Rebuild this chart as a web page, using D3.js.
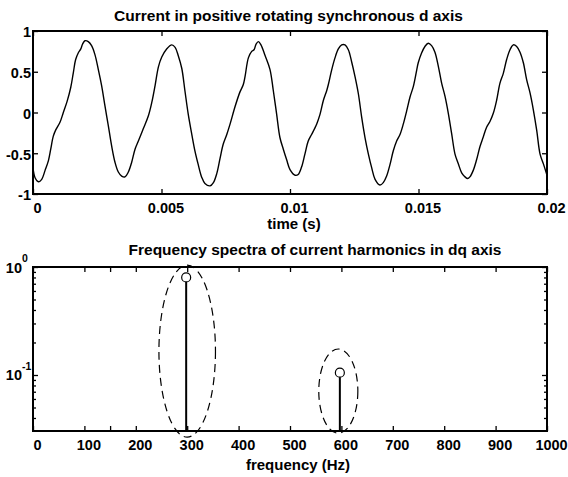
<!DOCTYPE html>
<html>
<head>
<meta charset="utf-8">
<script src="https://cdn.jsdelivr.net/npm/d3@7"></script>
<style>
  body { margin: 0; background: #fff; }
  svg { display: block; }
  text { font-family: "Liberation Sans", Arial, sans-serif; font-weight: bold; fill: #000; }
</style>
</head>
<body>
<div id="chart"></div>
<script>
// =====================
// DATA
// =====================
const timeSec = [
  0.00000, 0.00008, 0.00021, 0.00034, 0.00047, 0.00060, 0.00069, 0.00079, 0.00089, 0.00105,
  0.00118, 0.00133, 0.00147, 0.00157, 0.00166, 0.00176, 0.00186, 0.00193, 0.00202, 0.00215,
  0.00228, 0.00241, 0.00254, 0.00267, 0.00280, 0.00293, 0.00306, 0.00319, 0.00332, 0.00345,
  0.00358, 0.00371, 0.00384, 0.00397, 0.00410, 0.00429, 0.00449, 0.00462, 0.00475, 0.00488,
  0.00501, 0.00520, 0.00540, 0.00553, 0.00565, 0.00579, 0.00591, 0.00604, 0.00618, 0.00630,
  0.00643, 0.00656, 0.00669, 0.00689, 0.00702, 0.00715, 0.00728, 0.00740, 0.00754, 0.00767,
  0.00786, 0.00805, 0.00818, 0.00825, 0.00838, 0.00851, 0.00860, 0.00868, 0.00877, 0.00887,
  0.00903, 0.00922, 0.00935, 0.00948, 0.00961, 0.00974, 0.00987, 0.01000, 0.01020, 0.01032,
  0.01045, 0.01058, 0.01071, 0.01084, 0.01104, 0.01117, 0.01130, 0.01143, 0.01149, 0.01162,
  0.01175, 0.01188, 0.01201, 0.01214, 0.01227, 0.01240, 0.01253, 0.01266, 0.01279, 0.01292,
  0.01305, 0.01318, 0.01331, 0.01350, 0.01363, 0.01376, 0.01389, 0.01402, 0.01415, 0.01428,
  0.01441, 0.01454, 0.01467, 0.01480, 0.01493, 0.01499, 0.01512, 0.01525, 0.01538, 0.01551,
  0.01564, 0.01577, 0.01590, 0.01603, 0.01616, 0.01629, 0.01642, 0.01655, 0.01668, 0.01681,
  0.01691, 0.01700, 0.01713, 0.01726, 0.01739, 0.01752, 0.01765, 0.01778, 0.01791, 0.01804,
  0.01817, 0.01830, 0.01843, 0.01856, 0.01869, 0.01882, 0.01895, 0.01908, 0.01921, 0.01934,
  0.01947, 0.01960, 0.01973, 0.01986, 0.02000
];

const currentD = [
  -0.68, -0.80, -0.85, -0.82, -0.71, -0.59, -0.45, -0.29, -0.21, -0.12,
   0.00,  0.14,  0.31,  0.49,  0.65,  0.73,  0.78,  0.84,  0.88,  0.87,
   0.82,  0.71,  0.53,  0.33,  0.08, -0.16, -0.41, -0.61, -0.73, -0.78,
  -0.79, -0.73, -0.61, -0.45, -0.35, -0.20, -0.04,  0.12,  0.33,  0.56,
   0.68,  0.78,  0.83,  0.80,  0.70,  0.54,  0.27, -0.02, -0.27, -0.47,
  -0.64, -0.79, -0.87, -0.90, -0.86, -0.75, -0.56, -0.39, -0.27, -0.14,
   0.07,  0.25,  0.34,  0.44,  0.67,  0.75,  0.77,  0.84,  0.87,  0.83,
   0.70,  0.53,  0.27, -0.02, -0.31, -0.45, -0.58, -0.70, -0.77, -0.76,
  -0.67, -0.51, -0.35, -0.27, -0.14, -0.02,  0.15,  0.27,  0.34,  0.52,
   0.67,  0.78,  0.83,  0.83,  0.77,  0.62,  0.44,  0.23, -0.06, -0.31,
  -0.51, -0.68, -0.82, -0.89, -0.86, -0.78, -0.64, -0.47, -0.35, -0.27,
  -0.14,  0.02,  0.19,  0.32,  0.52,  0.61,  0.73,  0.81,  0.85,  0.82,
   0.74,  0.57,  0.36,  0.20, -0.01, -0.26, -0.51, -0.63, -0.74, -0.79,
  -0.81, -0.79, -0.71, -0.58, -0.42, -0.30, -0.18, -0.11, -0.01,  0.15,
   0.36,  0.48,  0.65,  0.77,  0.83,  0.81,  0.74,  0.61,  0.40,  0.24,
   0.03, -0.22, -0.51, -0.63, -0.77
];

const timeTicks = [0, 0.005, 0.01, 0.015, 0.02];
const currentTicks = [-1, -0.5, 0, 0.5, 1];

const harmonicFreq = [298, 597];
const harmonicAmp = [0.80, 0.105];

const freqTicks = [0, 100, 200, 300, 400, 500, 600, 700, 800, 900, 1000];
const freqExtraTicks = [150];
const ampMajorTicks = [0.1, 1];
const ampMinorTicks = [0.04, 0.05, 0.06, 0.07, 0.08, 0.09, 0.2, 0.3, 0.4, 0.5, 0.6, 0.7, 0.8, 0.9];

// dashed ellipses around the harmonics: [center Hz, half width Hz, top value, bottom value]
const ellipseFreq = [300, 594];
const ellipseHalfWidth = [55, 38];
const ellipseTop = [1.04, 0.174];
const ellipseBottom = [0.0266, 0.0289];

// =====================
// SVG SETUP
// =====================
const W = 568, H = 477;
const svg = d3.select("#chart").append("svg")
  .attr("width", W)
  .attr("height", H);

const left = 33, right = 547;
const top1 = { top: 31, bottom: 194 };
const top2 = { top: 267, bottom: 431 };

// =====================
// TOP PLOT: TIME SIGNAL
// =====================
const x1 = d3.scaleLinear().domain([0, 0.02]).range([left, right]);
const y1 = d3.scaleLinear().domain([-1, 1]).range([top1.bottom, top1.top]);

const g1 = svg.append("g");

function styleAxis(sel) {
  sel.select(".domain").remove();
  sel.selectAll("line").attr("stroke", "#000").attr("stroke-width", 1.3);
  sel.selectAll("text")
    .style("font-family", "'Liberation Sans', Arial, sans-serif")
    .style("font-weight", "bold")
    .style("font-size", "14.5px")
    .attr("fill", "#000");
}

g1.append("g")
  .attr("transform", `translate(0,${top1.bottom})`)
  .call(d3.axisBottom(x1).tickValues(timeTicks).tickSize(-5).tickPadding(9)
    .tickFormat(d => d === 0 ? "0" : String(+d.toFixed(3))))
  .call(styleAxis)
  .selectAll("text").attr("dx", 4);

g1.append("g")
  .attr("transform", `translate(0,${top1.top})`)
  .call(d3.axisTop(x1).tickValues(timeTicks).tickSize(-5).tickFormat(""))
  .call(styleAxis);

g1.append("g")
  .attr("transform", `translate(${left},0)`)
  .call(d3.axisLeft(y1).tickValues(currentTicks).tickSize(-5).tickPadding(2)
    .tickFormat(d => String(d)))
  .call(styleAxis)
  .selectAll("text").attr("dy", "0.4em");

g1.append("g")
  .attr("transform", `translate(${right},0)`)
  .call(d3.axisRight(y1).tickValues(currentTicks).tickSize(-5).tickFormat(""))
  .call(styleAxis);

const line = d3.line()
  .x((d, i) => x1(timeSec[i]))
  .y(d => y1(d))
  .curve(d3.curveCatmullRom.alpha(0.5));

g1.append("path")
  .datum(currentD)
  .attr("fill", "none")
  .attr("stroke", "#000")
  .attr("stroke-width", 1.4)
  .attr("d", line);

g1.append("rect")
  .attr("x", left).attr("y", top1.top)
  .attr("width", right - left).attr("height", top1.bottom - top1.top)
  .attr("fill", "none").attr("stroke", "#000").attr("stroke-width", 2);

g1.append("text")
  .attr("x", 288.5).attr("y", 21)
  .attr("text-anchor", "middle")
  .style("font-size", "15.5px")
  .text("Current in positive rotating synchronous d axis");

g1.append("text")
  .attr("x", 294).attr("y", 229)
  .attr("text-anchor", "middle")
  .style("font-size", "15px")
  .text("time (s)");

// =====================
// BOTTOM PLOT: SPECTRUM
// =====================
const x2 = d3.scaleLinear().domain([0, 1000]).range([left, right]);
const y2 = d3.scaleLog().domain([0.0303, 1]).range([top2.bottom, top2.top]);

const g2 = svg.append("g");

g2.append("g")
  .attr("transform", `translate(0,${top2.bottom})`)
  .call(d3.axisBottom(x2).tickValues(freqTicks).tickSize(-5).tickPadding(9).tickFormat(d3.format("d")))
  .call(styleAxis)
  .selectAll("text").attr("dx", 4);

[top2.bottom, top2.top].forEach(yy => {
  g2.append("g")
    .attr("transform", `translate(0,${yy})`)
    .call((yy === top2.top ? d3.axisTop(x2).tickValues(freqTicks.concat(freqExtraTicks))
                           : d3.axisBottom(x2).tickValues(freqExtraTicks))
      .tickSize(-5).tickFormat(""))
    .call(styleAxis);
});

[[left, d3.axisLeft], [right, d3.axisRight]].forEach(([xx, axisFn]) => {
  g2.append("g")
    .attr("transform", `translate(${xx},0)`)
    .call(axisFn(y2).tickValues(ampMajorTicks).tickSize(-5).tickFormat(""))
    .call(styleAxis);
  g2.append("g")
    .attr("transform", `translate(${xx},0)`)
    .call(axisFn(y2).tickValues(ampMinorTicks).tickSize(-3).tickFormat(""))
    .call(styleAxis);
});

// log tick labels as 10^n
const expLabels = g2.selectAll(".exp-label")
  .data(ampMajorTicks)
  .join("g")
  .attr("class", "exp-label")
  .attr("transform", d => `translate(${left - 11},${y2(d)})`);

expLabels.append("text")
  .attr("text-anchor", "end")
  .attr("y", d => d === 1 ? 6 : 5)
  .style("font-size", "14.5px")
  .text("10");

expLabels.append("text")
  .attr("x", 0)
  .attr("y", d => d === 1 ? -5 : -5)
  .style("font-size", "10.5px")
  .text(d => String(Math.round(Math.log10(d))));

// stems
const stems = g2.selectAll(".stem")
  .data(harmonicFreq)
  .join("g")
  .attr("class", "stem");

stems.append("line")
  .attr("x1", d => x2(d)).attr("x2", d => x2(d))
  .attr("y1", top2.bottom)
  .attr("y2", (d, i) => y2(harmonicAmp[i]) + 4.5)
  .attr("stroke", "#000").attr("stroke-width", 2);

stems.append("circle")
  .attr("cx", d => x2(d))
  .attr("cy", (d, i) => y2(harmonicAmp[i]))
  .attr("r", 4.5)
  .attr("fill", "none").attr("stroke", "#000").attr("stroke-width", 1.2);

// dashed ellipses
g2.selectAll(".ring")
  .data(ellipseFreq)
  .join("ellipse")
  .attr("class", "ring")
  .attr("cx", d => x2(d))
  .attr("cy", (d, i) => (y2(ellipseTop[i]) + y2(ellipseBottom[i])) / 2)
  .attr("rx", (d, i) => x2(d + ellipseHalfWidth[i]) - x2(d))
  .attr("ry", (d, i) => (y2(ellipseBottom[i]) - y2(ellipseTop[i])) / 2)
  .attr("fill", "none")
  .attr("stroke", "#000")
  .attr("stroke-width", 1.2)
  .attr("stroke-dasharray", "8,5");

g2.append("rect")
  .attr("x", left).attr("y", top2.top)
  .attr("width", right - left).attr("height", top2.bottom - top2.top)
  .attr("fill", "none").attr("stroke", "#000").attr("stroke-width", 2);

g2.append("text")
  .attr("x", 315).attr("y", 255)
  .attr("text-anchor", "middle")
  .style("font-size", "15.5px")
  .text("Frequency spectra of current harmonics in dq axis");

g2.append("text")
  .attr("x", 298).attr("y", 470)
  .attr("text-anchor", "middle")
  .style("font-size", "15px")
  .text("frequency (Hz)");
</script>
</body>
</html>
